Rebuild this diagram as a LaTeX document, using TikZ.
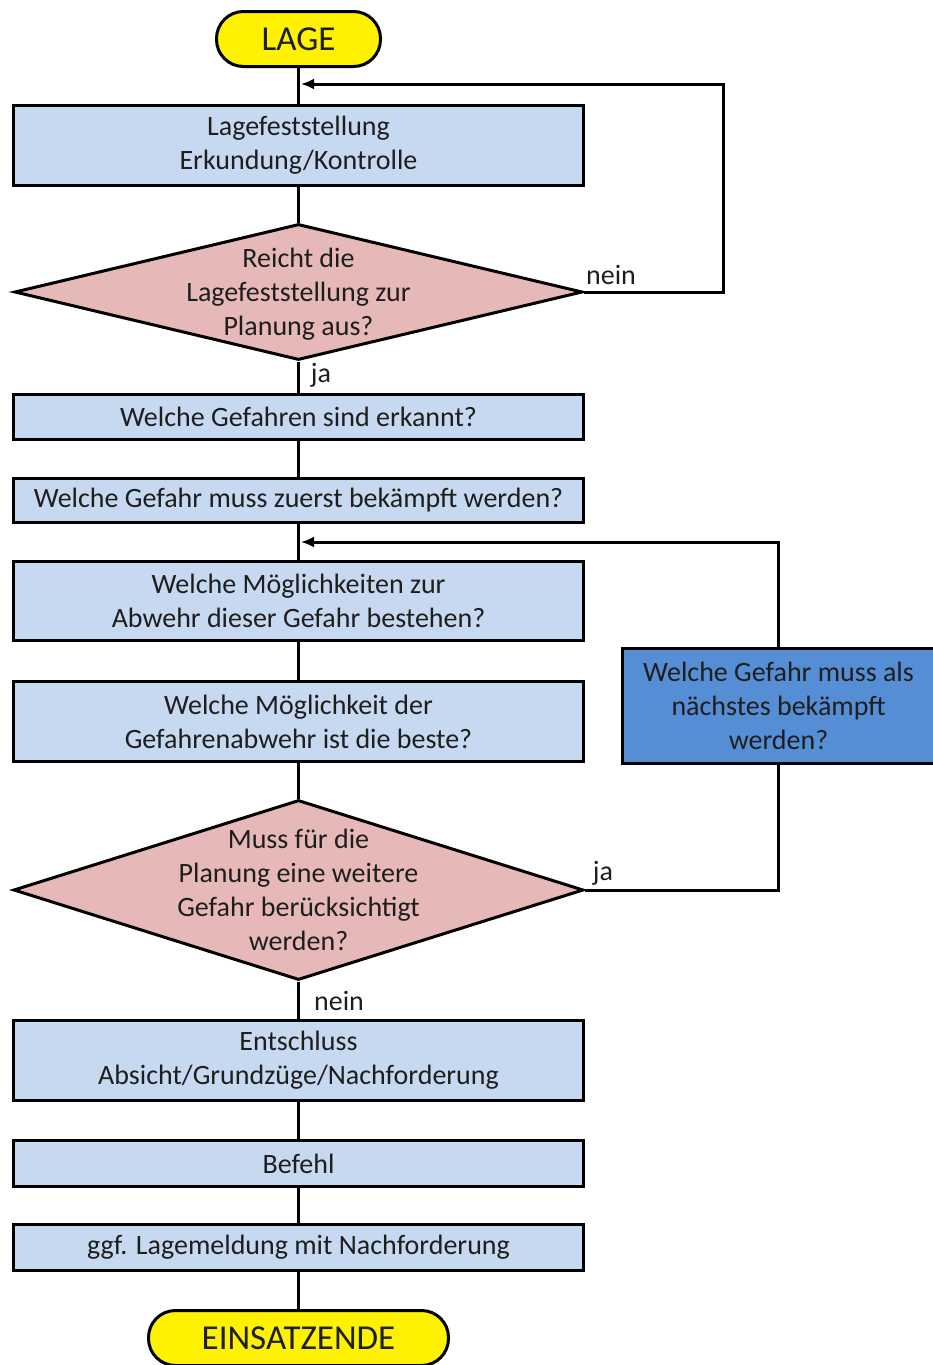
\documentclass[tikz,border=0pt]{standalone}
\usepackage{fontspec}
\setmainfont{Carlito}
\usetikzlibrary{shapes.geometric,arrows.meta}
\definecolor{lblue}{HTML}{C6D9F1}
\definecolor{pinkc}{HTML}{E6B9B8}
\definecolor{dblue}{HTML}{558ED5}
\definecolor{txt}{HTML}{1E1E1E}
\begin{document}
\begin{tikzpicture}[x=1pt,y=-1pt,
  box/.style={draw=black, line width=3pt, fill=lblue, minimum width=570pt, inner sep=0pt, align=center, text=txt, font=\fontsize{28}{34}\selectfont},
  term/.style={draw=black, line width=3pt, fill=yellow, rounded corners=27pt, minimum height=55pt, inner sep=0pt, text=txt, font=\fontsize{35}{42}\selectfont},
  dia/.style={draw=black, diamond, line width=3pt, fill=pinkc, inner sep=0pt},
  dtext/.style={align=center, text=txt, inner sep=0pt, font=\fontsize{28}{34}\selectfont},
  lbl/.style={text=txt, inner sep=0pt, font=\fontsize{28}{34}\selectfont},
  conn/.style={line width=3pt, black},
  arr/.style={conn, -{Latex[length=13pt,width=11pt]}}
]
\useasboundingbox (0,0) rectangle (932,1365);

% nodes
\node[term, minimum width=164pt] (lage) at (298.5,39) {LAGE};
\node[box, minimum height=80pt] (b1) at (298.5,145.5) {Lagefeststellung\\Erkundung/Kontrolle};
\node[dia, minimum width=568pt, minimum height=136pt] (d1) at (298.5,292) {};
\node[dtext] (d1t) at ([yshift=-2pt]d1.center) {Reicht die\\Lagefeststellung zur\\Planung aus?};
\node[box, minimum height=45pt] (b2) at (298.5,417) {Welche Gefahren sind erkannt?};
\node[box, minimum height=44pt] (b3) at (298.5,500.5) {Welche Gefahr muss zuerst bekämpft werden?};
\node[box, minimum height=79pt] (b4) at (298.5,601) {Welche Möglichkeiten zur\\Abwehr dieser Gefahr bestehen?};
\node[box, minimum height=80pt] (b5) at (298.5,721.5) {Welche Möglichkeit der\\Gefahrenabwehr ist die beste?};
\node[dia, minimum width=570pt, minimum height=180pt] (d2) at (298.5,890) {};
\node[dtext] (d2t) at (d2.center) {Muss für die\\Planung eine weitere\\Gefahr berücksichtigt\\werden?};
\node[box, minimum height=80pt] (b7) at (298.5,1060.5) {Entschluss\\Absicht/Grundzüge/Nachforderung};
\node[box, minimum height=46pt] (b8) at (298.5,1163.5) {Befehl};
\node[box, minimum height=46pt] (b9) at (298.5,1247.5) {ggf. Lagemeldung mit Nachforderung};
\node[term, minimum width=300pt] (ende) at (298.5,1338) {EINSATZENDE};
\node[box, fill=dblue, minimum width=312pt, minimum height=115pt] (b6) at (778.5,706) {Welche Gefahr muss als\\nächstes bekämpft\\werden?};

% labels
\node[lbl] (l1) at (611,275) {nein};
\node[lbl] (l2) at (321,375) {ja};
\node[lbl] (l3) at (603,873) {ja};
\node[lbl] (l4) at (339,1001) {nein};

% coordinates for loop ends
\coordinate (j1) at (301,84);
\coordinate (j2) at (301,542);
\coordinate (c1) at (723,292);
\coordinate (c2) at (723,84);
\coordinate (c3) at (778.5,890);
\coordinate (c4) at (778.5,542);

% main flow
\draw[conn] (lage.south) -- (b1.north);
\draw[conn] (b1.south) -- (d1.north);
\draw[conn] (d1.south) -- (b2.north);
\draw[conn] (b2.south) -- (b3.north);
\draw[conn] (b3.south) -- (b4.north);
\draw[conn] (b4.south) -- (b5.north);
\draw[conn] (b5.south) -- (d2.north);
\draw[conn] (d2.south) -- (b7.north);
\draw[conn] (b7.south) -- (b8.north);
\draw[conn] (b8.south) -- (b9.north);
\draw[conn] (b9.south) -- (ende.north);

% loops
\draw[arr] (d1.east) -- (c1) -- (c2) -- (j1);
\draw[conn] (d2.east) -- (c3) -- (b6.south);
\draw[arr] (b6.north) -- (c4) -- (j2);
\end{tikzpicture}
\end{document}
